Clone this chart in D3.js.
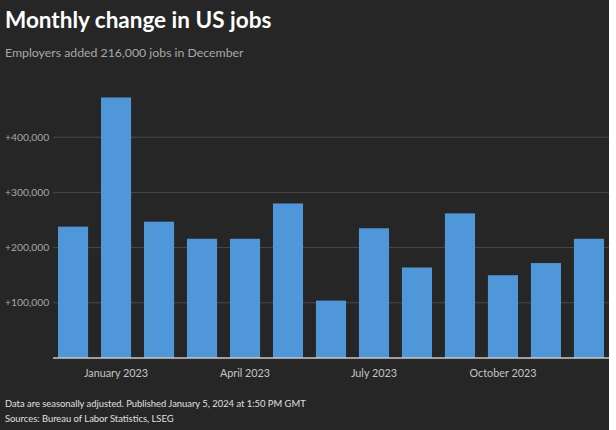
<!DOCTYPE html>
<html>
<head>
<meta charset="utf-8">
<script src="https://cdn.jsdelivr.net/npm/d3@7"></script>
<style>
  body { margin: 0; background: #fff; }
  svg { display: block; font-family: "Source Sans Pro", Lato, "Open Sans", sans-serif; }
</style>
</head>
<body>
<svg id="chart"></svg>
<script>
// Data - monthly change in nonfarm payrolls
const months = ["Dec 2022", "Jan 2023", "Feb 2023", "Mar 2023", "Apr 2023", "May 2023", "Jun 2023",
  "Jul 2023", "Aug 2023", "Sep 2023", "Oct 2023", "Nov 2023", "Dec 2023"];
const jobs = [238000, 472000, 247000, 216000, 216000, 280000, 104000, 235000, 164000, 262000, 150000, 172000, 216000];
const yTicks = [100000, 200000, 300000, 400000];
const xLabels = { "Jan 2023": "January 2023", "Apr 2023": "April 2023", "Jul 2023": "July 2023", "Oct 2023": "October 2023" };

const width = 616;
const height = 430;
const panelWidth = 609;

const svg = d3.select("#chart")
  .attr("width", width)
  .attr("height", height);

// dark panel
svg.append("rect")
  .attr("width", panelWidth)
  .attr("height", height)
  .attr("fill", "#262626");

const x = d3.scaleBand()
  .domain(months)
  .range([58, 604])
  .paddingInner(0.3)
  .paddingOuter(0);

const y = d3.scaleLinear()
  .domain([0, 500000])
  .range([358, 82]);

// gridlines + labels
const grid = svg.append("g");
grid.selectAll("line")
  .data(yTicks)
  .enter()
  .append("line")
  .attr("x1", 53)
  .attr("x2", panelWidth)
  .attr("y1", d => y(d))
  .attr("y2", d => y(d))
  .attr("stroke", "#4a4a4a")
  .attr("stroke-width", 1);

grid.selectAll("text")
  .data(yTicks)
  .enter()
  .append("text")
  .attr("x", 5)
  .attr("y", d => y(d))
  .attr("dy", "0.35em")
  .attr("fill", "#a8a8a8")
  .style("font-size", "10.3px")
  .text(d => "+" + d3.format(",")(d));

// bars
svg.append("g")
  .selectAll("rect")
  .data(jobs)
  .enter()
  .append("rect")
  .attr("x", (d, i) => x(months[i]))
  .attr("width", x.bandwidth())
  .attr("y", d => y(d))
  .attr("height", d => y(0) - y(d))
  .attr("fill", "#4f97d9");

// baseline
svg.append("line")
  .attr("x1", 53)
  .attr("x2", panelWidth)
  .attr("y1", y(0))
  .attr("y2", y(0))
  .attr("stroke", "#c8c8c8")
  .attr("stroke-width", 1.5);

// x labels
svg.append("g")
  .selectAll("text")
  .data(months.filter(m => xLabels[m]))
  .enter()
  .append("text")
  .attr("x", d => x(d) + x.bandwidth() / 2)
  .attr("y", 377)
  .attr("text-anchor", "middle")
  .attr("fill", "#c4c4c4")
  .style("font-size", "10.8px")
  .text(d => xLabels[d]);

// title + subtitle
svg.append("text")
  .attr("x", 5)
  .attr("y", 28)
  .attr("fill", "#ffffff")
  .style("font-size", "22.5px")
  .style("font-weight", "bold")
  .text("Monthly change in US jobs");

svg.append("text")
  .attr("x", 5)
  .attr("y", 57)
  .attr("fill", "#a8a8a8")
  .style("font-size", "12.3px")
  .text("Employers added 216,000 jobs in December");

// footer
svg.append("text")
  .attr("x", 5)
  .attr("y", 407)
  .attr("fill", "#e0e0e0")
  .style("font-size", "9.4px")
  .text("Data are seasonally adjusted. Published January 5, 2024 at 1:50 PM GMT");

svg.append("text")
  .attr("x", 5)
  .attr("y", 422)
  .attr("fill", "#e0e0e0")
  .style("font-size", "9.4px")
  .text("Sources: Bureau of Labor Statistics, LSEG");
</script>
</body>
</html>
